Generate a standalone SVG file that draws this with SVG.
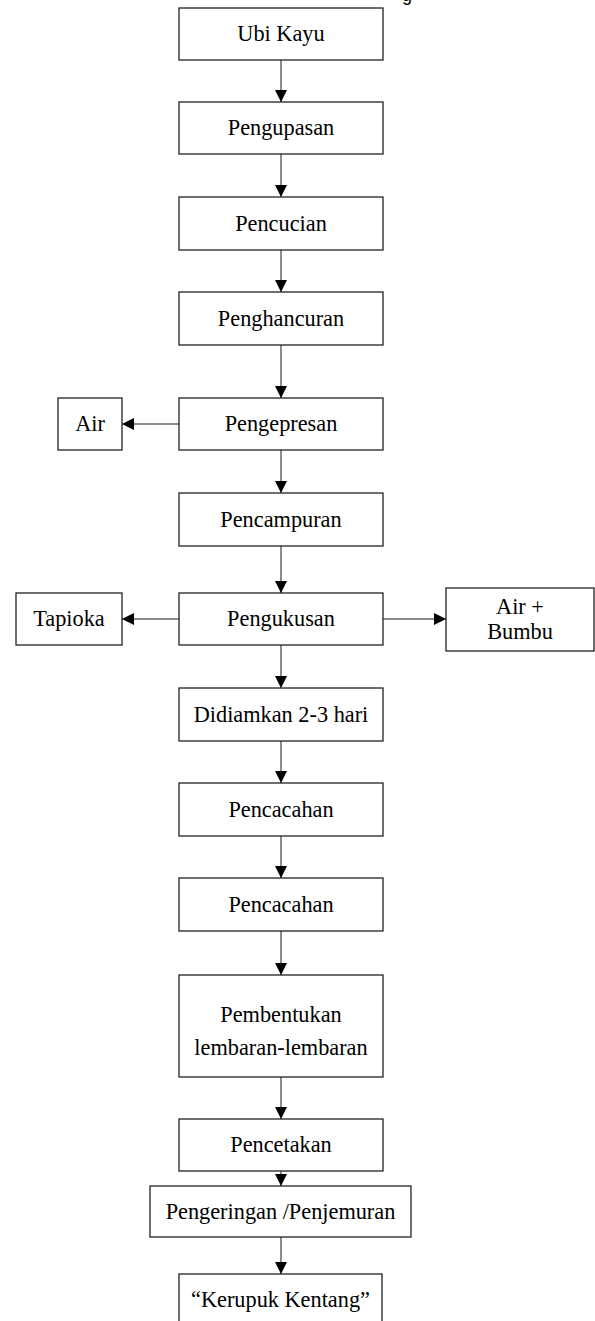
<svg xmlns="http://www.w3.org/2000/svg" width="595" height="1321" viewBox="0 0 595 1321">
<style>
.box{fill:#fff;stroke:#222;stroke-width:1.3}
.lbl{font-family:"Liberation Serif","Times New Roman",serif;font-size:22.3px;fill:#000;text-anchor:middle}
.con{stroke:#666;stroke-width:1.5;fill:none;marker-end:url(#ah)}
</style>
<defs>
<marker id="ah" markerUnits="userSpaceOnUse" markerWidth="14" markerHeight="14" refX="12" refY="6" orient="auto">
<path d="M0,0 L12,6 L0,12 Z" fill="#000"/>
</marker>
</defs>
<rect width="595" height="1321" fill="#fff"/>
<text x="402" y="1" style="font-family:'Liberation Sans',Arial,sans-serif;font-size:18px">g</text>
<g id="connectors">
<line class="con" x1="281" y1="60" x2="281" y2="102"/>
<line class="con" x1="281" y1="154" x2="281" y2="197"/>
<line class="con" x1="281" y1="250" x2="281" y2="292"/>
<line class="con" x1="281" y1="345" x2="281" y2="398"/>
<line class="con" x1="179" y1="424" x2="122" y2="424"/>
<line class="con" x1="281" y1="450" x2="281" y2="493"/>
<line class="con" x1="281" y1="546" x2="281" y2="593"/>
<line class="con" x1="179" y1="619" x2="122" y2="619"/>
<line class="con" x1="383" y1="619" x2="446" y2="619"/>
<line class="con" x1="281" y1="645" x2="281" y2="688"/>
<line class="con" x1="281" y1="741" x2="281" y2="783"/>
<line class="con" x1="281" y1="836" x2="281" y2="878"/>
<line class="con" x1="281" y1="931" x2="281" y2="975"/>
<line class="con" x1="281" y1="1077" x2="281" y2="1119"/>
<line class="con" x1="281" y1="1171" x2="281" y2="1186"/>
<line class="con" x1="281" y1="1237" x2="281" y2="1274"/>
</g>
<g id="n1"><rect class="box" x="179" y="8" width="204" height="52"/><text class="lbl" x="281" y="41">Ubi Kayu</text></g>
<g id="n2"><rect class="box" x="179" y="102" width="204" height="52"/><text class="lbl" x="281" y="135">Pengupasan</text></g>
<g id="n3"><rect class="box" x="179" y="197" width="204" height="53"/><text class="lbl" x="281" y="231">Pencucian</text></g>
<g id="n4"><rect class="box" x="179" y="292" width="204" height="53"/><text class="lbl" x="281" y="326">Penghancuran</text></g>
<g id="n5"><rect class="box" x="179" y="398" width="204" height="52"/><text class="lbl" x="281" y="431">Pengepresan</text></g>
<g id="n5a"><rect class="box" x="58" y="398" width="64" height="52"/><text class="lbl" x="90" y="431">Air</text></g>
<g id="n6"><rect class="box" x="179" y="493" width="204" height="53"/><text class="lbl" x="281" y="527">Pencampuran</text></g>
<g id="n7"><rect class="box" x="179" y="593" width="204" height="52"/><text class="lbl" x="281" y="626">Pengukusan</text></g>
<g id="n7a"><rect class="box" x="16" y="593" width="106" height="52"/><text class="lbl" x="69" y="626">Tapioka</text></g>
<g id="n7b"><rect class="box" x="446" y="588" width="148" height="63"/><text class="lbl" x="520" y="614">Air +</text><text class="lbl" x="520" y="639">Bumbu</text></g>
<g id="n8"><rect class="box" x="179" y="688" width="204" height="53"/><text class="lbl" x="281" y="722">Didiamkan 2-3 hari</text></g>
<g id="n9"><rect class="box" x="179" y="783" width="204" height="53"/><text class="lbl" x="281" y="817">Pencacahan</text></g>
<g id="n10"><rect class="box" x="179" y="878" width="204" height="53"/><text class="lbl" x="281" y="912">Pencacahan</text></g>
<g id="n11"><rect class="box" x="179" y="975" width="204" height="102"/><text class="lbl" x="281" y="1022">Pembentukan</text><text class="lbl" x="281" y="1055">lembaran-lembaran</text></g>
<g id="n12"><rect class="box" x="179" y="1119" width="204" height="52"/><text class="lbl" x="281" y="1152">Pencetakan</text></g>
<g id="n13"><rect class="box" x="150" y="1186" width="261" height="51"/><text class="lbl" x="280.5" y="1219">Pengeringan /Penjemuran</text></g>
<g id="n14"><rect class="box" x="179" y="1274" width="203" height="60"/><text class="lbl" x="280.5" y="1307">“Kerupuk Kentang”</text></g>
</svg>
